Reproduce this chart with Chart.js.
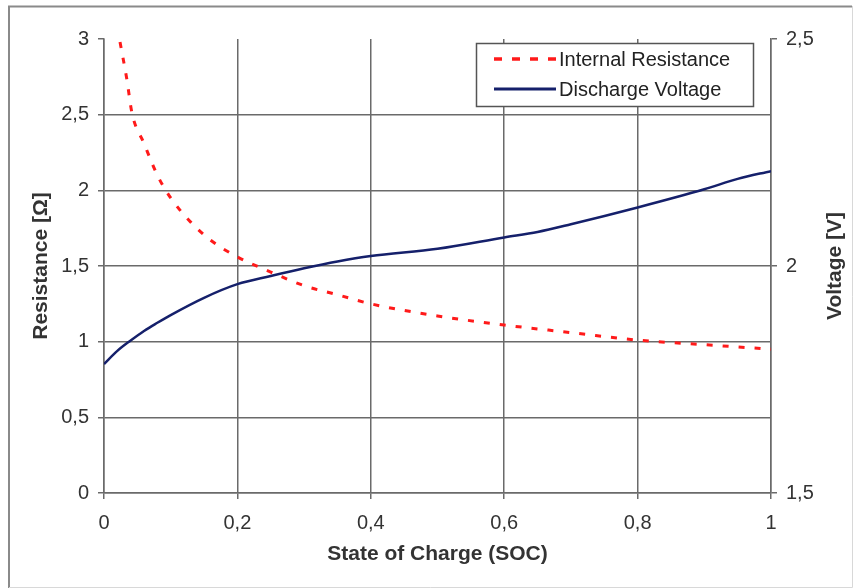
<!DOCTYPE html>
<html>
<head>
<meta charset="utf-8">
<script src="https://cdn.jsdelivr.net/npm/chart.js@4/dist/chart.umd.min.js"></script>
<style>
html,body{margin:0;padding:0;background:#fff;}
canvas{display:block;}
</style>
</head>
<body>
<canvas id="c" width="855" height="588"></canvas>
<script>
// State of charge values for each series
const socResistance = [0.024, 0.034, 0.042, 0.06, 0.08, 0.1, 0.13, 0.16, 0.2, 0.25, 0.3, 0.35, 0.4, 0.5, 0.6, 0.7, 0.8, 0.9, 1.0];
const resistance    = [2.98, 2.74, 2.51, 2.31, 2.10, 1.95, 1.79, 1.67, 1.56, 1.46, 1.37, 1.31, 1.25, 1.17, 1.11, 1.06, 1.01, 0.98, 0.95];
const socVoltage = [0, 0.02, 0.04, 0.06, 0.08, 0.1, 0.15, 0.2, 0.25, 0.3, 0.35, 0.4, 0.5, 0.6, 0.65, 0.7, 0.8, 0.9, 0.95, 1.0];
const voltage    = [1.784, 1.813, 1.836, 1.857, 1.875, 1.892, 1.930, 1.960, 1.978, 1.995, 2.010, 2.022, 2.038, 2.063, 2.075, 2.092, 2.129, 2.169, 2.192, 2.209];

const xTickLabels = ['0', '0,2', '0,4', '0,6', '0,8', '1'];
const leftTickLabels = ['0', '0,5', '1', '1,5', '2', '2,5', '3'];
const rightTickLabels = ['1,5', '2', '2,5'];

const seriesNames = ['Internal Resistance', 'Discharge Voltage'];
const axisTitles = { x: 'State of Charge (SOC)', left: 'Resistance [Ω]', right: 'Voltage [V]' };

const FONT = '"Liberation Sans", Arial, sans-serif';
const GRID = '#6a6a6a';
const TEXT = '#333';
const RED = '#ff1a1a';
const BLUE = '#15206b';

const framePlugin = {
  id: 'frame',
  beforeDraw(chart) {
    const ctx = chart.ctx;
    ctx.save();
    ctx.fillStyle = '#fff';
    ctx.fillRect(0, 0, chart.width, chart.height);
    ctx.strokeStyle = '#8a8a8a';
    ctx.lineWidth = 2;
    ctx.beginPath();
    ctx.moveTo(9, 588); ctx.lineTo(9, 6.5); ctx.lineTo(852, 6.5);
    ctx.stroke();
    ctx.strokeStyle = '#d8d8d8';
    ctx.lineWidth = 1;
    ctx.beginPath();
    ctx.moveTo(852.5, 6); ctx.lineTo(852.5, 587.5); ctx.lineTo(9, 587.5);
    ctx.stroke();
    ctx.restore();
  },
  afterDraw(chart) {
    const ctx = chart.ctx;
    const a = chart.chartArea;
    ctx.save();
    // axis titles
    ctx.fillStyle = TEXT;
    ctx.font = 'bold 21px ' + FONT;
    ctx.textAlign = 'center';
    ctx.textBaseline = 'middle';
    ctx.fillText(axisTitles.x, (a.left + a.right) / 2, 554);
    ctx.save();
    ctx.translate(41, 266);
    ctx.rotate(-Math.PI / 2);
    ctx.fillText(axisTitles.left, 0, 0);
    ctx.restore();
    ctx.save();
    ctx.translate(835, 266);
    ctx.rotate(-Math.PI / 2);
    ctx.fillText(axisTitles.right, 0, 0);
    ctx.restore();
    // legend
    const lx = 476.5, ly = 43.5, lw = 277, lh = 63;
    ctx.fillStyle = '#fff';
    ctx.fillRect(lx, ly, lw, lh);
    ctx.strokeStyle = '#555';
    ctx.lineWidth = 1.5;
    ctx.strokeRect(lx, ly, lw, lh);
    const ds = chart.data.datasets;
    const rows = [59, 89];
    for (let i = 0; i < ds.length; i++) {
      ctx.beginPath();
      ctx.strokeStyle = ds[i].borderColor;
      ctx.lineWidth = i === 0 ? 3.5 : 3;
      ctx.setLineDash(i === 0 ? [8, 10] : []);
      ctx.moveTo(494, rows[i]);
      ctx.lineTo(556, rows[i]);
      ctx.stroke();
      ctx.setLineDash([]);
      ctx.fillStyle = '#222';
      ctx.font = '20px ' + FONT;
      ctx.textAlign = 'left';
      ctx.textBaseline = 'middle';
      ctx.fillText(ds[i].label, 559, rows[i] + 1);
    }
    ctx.restore();
  }
};

new Chart(document.getElementById('c'), {
  type: 'line',
  data: {
    datasets: [
      {
        label: seriesNames[0],
        data: socResistance.map((x, i) => ({ x, y: resistance[i] })),
        borderColor: RED,
        borderWidth: 3,
        borderDash: [6, 10],
        pointRadius: 0,
        cubicInterpolationMode: 'monotone',
        yAxisID: 'y'
      },
      {
        label: seriesNames[1],
        data: socVoltage.map((x, i) => ({ x, y: voltage[i] })),
        borderColor: BLUE,
        borderWidth: 2.5,
        pointRadius: 0,
        cubicInterpolationMode: 'monotone',
        yAxisID: 'y2'
      }
    ]
  },
  options: {
    responsive: false,
    animation: false,
    events: [],
    layout: { padding: { top: 39, left: 0, right: 0, bottom: 0 } },
    plugins: { legend: { display: false }, tooltip: { enabled: false } },
    scales: {
      x: {
        type: 'linear',
        min: 0, max: 1,
        afterFit(s) { s.height = 95; },
        ticks: {
          stepSize: 0.2,
          color: TEXT,
          font: { family: FONT, size: 20 },
          padding: 12,
          maxRotation: 0,
          callback: (v, i) => xTickLabels[i]
        },
        grid: { color: GRID, tickColor: GRID, lineWidth: 1.5, tickLength: 6 },
        border: { color: GRID, width: 1.5 }
      },
      y: {
        position: 'left',
        min: 0, max: 3,
        afterFit(s) { s.width = 104; },
        ticks: {
          stepSize: 0.5,
          color: TEXT,
          font: { family: FONT, size: 20 },
          padding: 9,
          callback: (v, i) => leftTickLabels[i]
        },
        grid: {
          color: (c) => (c.tick && c.tick.value === 3 ? 'rgba(0,0,0,0)' : GRID),
          tickColor: GRID,
          lineWidth: 1.5,
          tickLength: 6
        },
        border: { color: GRID, width: 1.5 }
      },
      y2: {
        position: 'right',
        min: 1.5, max: 2.5,
        afterFit(s) { s.width = 84; },
        ticks: {
          stepSize: 0.5,
          color: TEXT,
          font: { family: FONT, size: 20 },
          padding: 9,
          callback: (v, i) => rightTickLabels[i]
        },
        grid: { drawOnChartArea: false, tickColor: GRID, lineWidth: 1.5, tickLength: 6 },
        border: { color: GRID, width: 1.5 }
      }
    }
  },
  plugins: [framePlugin]
});
</script>
</body>
</html>
